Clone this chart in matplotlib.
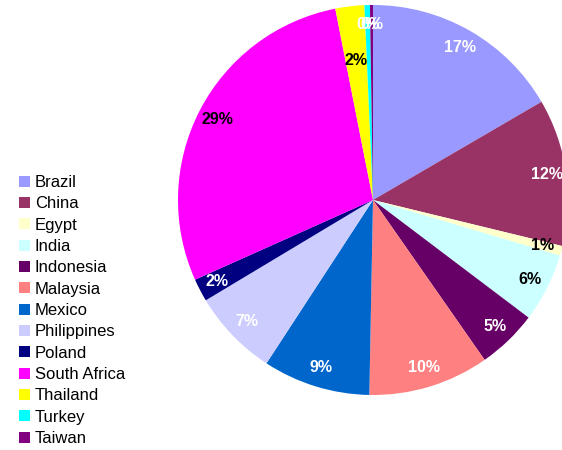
import matplotlib
matplotlib.use("Agg")
import matplotlib.pyplot as plt

# data
countries = ["Brazil", "China", "Egypt", "India", "Indonesia", "Malaysia", "Mexico",
             "Philippines", "Poland", "South Africa", "Thailand", "Turkey", "Taiwan"]
shares = [16.6, 12.2, 0.8, 5.7, 5.0, 10.0, 8.9, 7.2, 1.9, 28.6, 2.4, 0.45, 0.25]
colors = ["#9999FF", "#993366", "#FFFFCC", "#CCFFFF", "#660066", "#FF8080", "#0066CC",
          "#CCCCFF", "#000080", "#FF00FF", "#FFFF00", "#00FFFF", "#800080"]
label_colors = ["white", "white", "black", "black", "white", "white", "white",
                "white", "white", "black", "black", "white", "white"]

plt.rcParams['font.family'] = ['Liberation Sans', 'DejaVu Sans']

fig = plt.figure(figsize=(5.62, 4.5), dpi=100)
ax = fig.add_axes([178 / 562, 55 / 450, 390 / 562, 390 / 450])

wedges, texts, autotexts = ax.pie(shares, colors=colors, startangle=90, counterclock=False,
                                  autopct='%.0f%%', pctdistance=0.9, radius=1.0,
                                  wedgeprops=dict(linewidth=0))
for t, c in zip(autotexts, label_colors):
    t.set_color(c)
    t.set_fontsize(11.5)
    t.set_fontweight('bold')
# thailand label sits further in
x, y = autotexts[10].get_position()
autotexts[10].set_position((x * 0.72 / 0.9, y * 0.72 / 0.9))
ax.set_xlim(-1, 1)
ax.set_ylim(-1, 1)

fig.legend(wedges, countries, loc='upper left', bbox_to_anchor=(19 / 562, 1 - 175 / 450),
           frameon=False, fontsize=12, handlelength=0.65, handleheight=0.65,
           handletextpad=0.3, labelspacing=0.38, borderpad=0, borderaxespad=0)

fig.savefig("out.png", dpi=100)
